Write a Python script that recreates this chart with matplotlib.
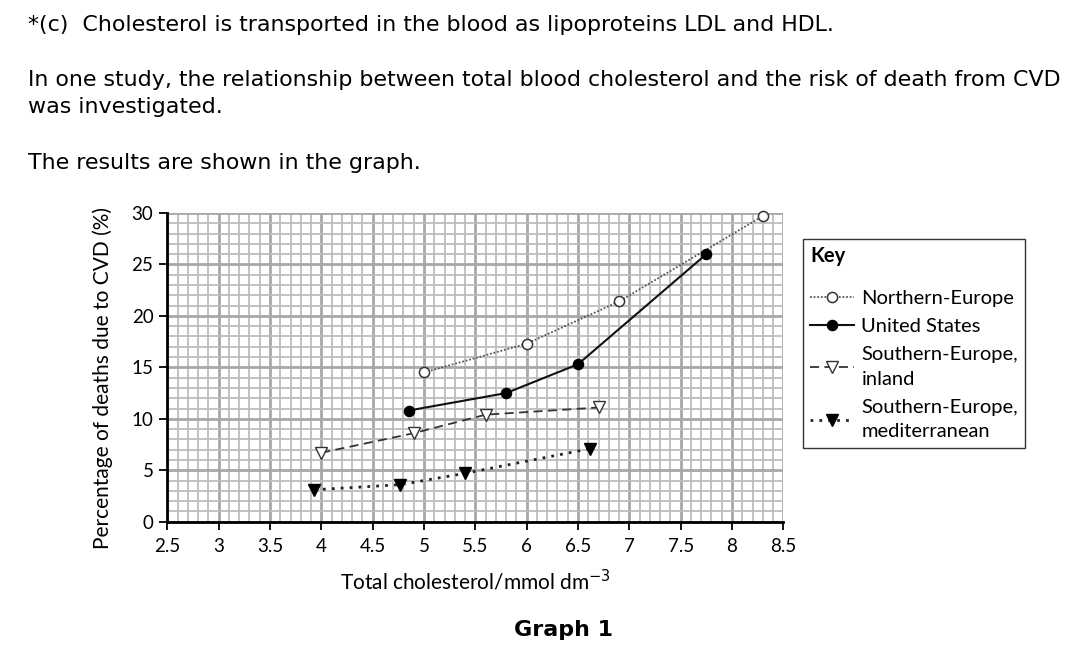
import matplotlib

matplotlib.use("Agg")
import matplotlib.pyplot as plt
from matplotlib.ticker import MultipleLocator

# Values (x: total cholesterol / mmol dm-3, y: % deaths from CVD)
north_x = [5.0, 6.0, 6.9, 8.3]
north_y = [14.5, 17.3, 21.4, 29.7]

us_x = [4.85, 5.8, 6.5, 7.75]
us_y = [10.8, 12.5, 15.3, 26.0]

inland_x = [4.0, 4.9, 5.6, 6.7]
inland_y = [6.7, 8.6, 10.4, 11.1]

med_x = [3.93, 4.77, 5.4, 6.62]
med_y = [3.1, 3.6, 4.7, 7.1]

x_ticks = [2.5, 3, 3.5, 4, 4.5, 5, 5.5, 6, 6.5, 7, 7.5, 8, 8.5]
x_labels = ["2.5", "3", "3.5", "4", "4.5", "5", "5.5", "6", "6.5", "7", "7.5", "8", "8.5"]
y_ticks = [0, 5, 10, 15, 20, 25, 30]

LABEL_FONT = ["Lato", "DejaVu Sans"]
HEAD_SIZE = 15.9

fig = plt.figure(figsize=(10.8, 6.51), dpi=100)
fig.patch.set_facecolor("white")

# Header text of the exam question
fig.text(28 / 1080, 1 - 25 / 651,
         "*(c)  Cholesterol is transported in the blood as lipoproteins LDL and HDL.",
         fontsize=HEAD_SIZE, va="center", ha="left", family="DejaVu Sans")
fig.text(28 / 1080, 1 - 80 / 651,
         "In one study, the relationship between total blood cholesterol and the risk of death from CVD",
         fontsize=HEAD_SIZE, va="center", ha="left", family="DejaVu Sans")
fig.text(28 / 1080, 1 - 107 / 651, "was investigated.",
         fontsize=HEAD_SIZE, va="center", ha="left", family="DejaVu Sans")
fig.text(28 / 1080, 1 - 163 / 651, "The results are shown in the graph.",
         fontsize=HEAD_SIZE, va="center", ha="left", family="DejaVu Sans")
fig.text(563 / 1080, 1 - 630 / 651, "Graph 1",
         fontsize=HEAD_SIZE, fontweight="bold", va="center", ha="center", family="DejaVu Sans")

ax = fig.add_axes([167.3 / 1080, 1 - 521.7 / 651, 616 / 1080, 308.7 / 651])
ax.set_xlim(2.5, 8.5)
ax.set_ylim(0, 30)

# Graph-paper grid
ax.xaxis.set_minor_locator(MultipleLocator(0.1))
ax.yaxis.set_minor_locator(MultipleLocator(1))
ax.grid(which="minor", color="#bdbdbd", linewidth=1.3, zorder=0)
ax.grid(which="major", color="#a8a8a8", linewidth=2.0, zorder=0)
ax.set_axisbelow(True)
ax.tick_params(which="minor", length=0)

ax.set_xticks(x_ticks)
ax.set_xticklabels(x_labels)
ax.set_yticks(y_ticks)
ax.tick_params(which="major", direction="out", length=6, width=1.3, color="black",
               labelsize=13.5, pad=4)
ax.tick_params(axis="x", which="major", pad=6)
for lab in ax.get_xticklabels() + ax.get_yticklabels():
    lab.set_family(LABEL_FONT)

for side in ["top", "right"]:
    ax.spines[side].set_visible(False)
for side in ["left", "bottom"]:
    ax.spines[side].set_linewidth(2.0)
    ax.spines[side].set_color("black")

# Series
ax.plot(north_x, north_y, color="#555555", linestyle=(0, (1, 1)), linewidth=1.3,
        marker="o", markersize=7.3, markerfacecolor="white", markeredgecolor="#333333",
        markeredgewidth=1.1, label="Northern-Europe", zorder=5, clip_on=False)
ax.plot(us_x, us_y, color="#111111", linestyle="-", linewidth=1.5,
        marker="o", markersize=7.3, markerfacecolor="black", markeredgecolor="black",
        label="United States", zorder=5, clip_on=False)
ax.plot(inland_x, inland_y, color="#333333", linestyle=(0, (5, 3)), linewidth=1.3,
        marker="v", markersize=8, markerfacecolor="white", markeredgecolor="#333333",
        markeredgewidth=1.0, label="Southern-Europe,\ninland", zorder=5)
ax.plot(med_x, med_y, color="#222222", linestyle=(0, (1, 2.2)), linewidth=2.0,
        marker="v", markersize=8, markerfacecolor="black", markeredgecolor="black",
        label="Southern-Europe,\nmediterranean", zorder=5)

ax.set_xlabel("Total cholesterol/mmol dm$^{-3}$", fontsize=15, family=LABEL_FONT)
ax.xaxis.set_label_coords(0.5, -0.152)
ax.set_ylabel("Percentage of deaths due to CVD (%)", fontsize=15, family=LABEL_FONT)
ax.yaxis.set_label_coords(-0.088, 0.466)

leg = ax.legend(loc="upper left", bbox_to_anchor=(803 / 1080, 1 - 239 / 651),
                bbox_transform=fig.transFigure, title="Key", alignment="left",
                prop={"family": LABEL_FONT, "size": 14.5},
                title_fontproperties={"family": LABEL_FONT, "size": 14.5, "weight": "bold"},
                fancybox=False, edgecolor="#333333", framealpha=1.0,
                handlelength=2.2, handletextpad=0.35, labelspacing=0.55,
                borderpad=0.35, borderaxespad=0)
leg.get_frame().set_linewidth(1.0)
leg._legend_box.sep = 17
for t in leg.get_texts():
    t.set_linespacing(1.55)

fig.savefig("out.png", dpi=100, facecolor="white")
